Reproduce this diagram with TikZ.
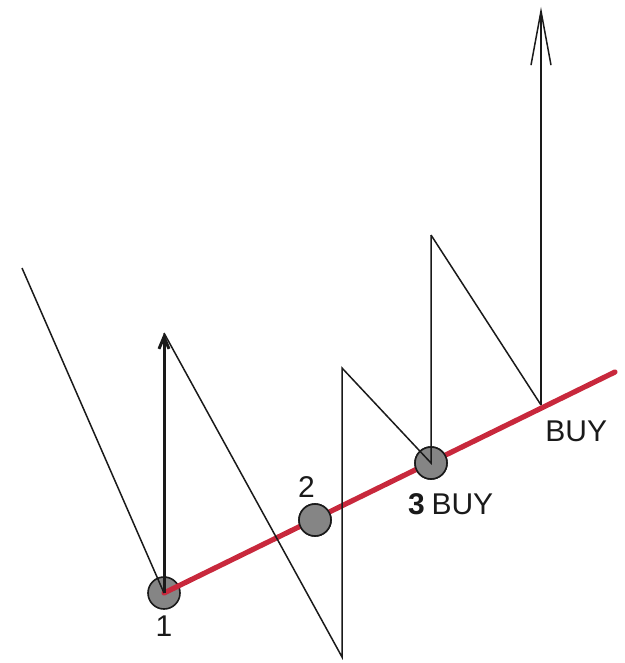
\documentclass[tikz,border=0pt]{standalone}
\usepackage{fontspec}
\setmainfont{Liberation Sans}
\usetikzlibrary{arrows.meta,positioning}
\definecolor{trend}{HTML}{C8283C}
\definecolor{dot}{HTML}{858585}
\definecolor{ink}{HTML}{1A1A1A}
\tikzset{
  pt/.style={circle,draw=ink,fill=dot,line width=0.8pt,minimum size=16pt,inner sep=0pt},
  leg/.style={draw=ink,line width=0.75pt,line join=miter},
  imp/.style={-{Straight Barb[length=6pt,width=5pt]},draw=ink,line width=1.5pt},
  tgt/.style={-{Straight Barb[length=27pt,width=10pt]},draw=ink,line width=0.75pt},
  tl/.style={draw=trend,line width=2.6pt,line cap=round},
  lbl/.style={font=\fontsize{15}{18}\selectfont,text=ink,inner sep=0pt},
}
\begin{document}
\begin{tikzpicture}[x=0.5pt,y=-0.5pt]
\useasboundingbox (0,0) rectangle (625,663);
% swing points
\coordinate (start) at (22,268);
\coordinate (top1) at (164,333);
\coordinate (low1) at (342,657);
\coordinate (top2) at (342,368);
\coordinate (top3) at (431,235);
\coordinate (buy2) at (541,405);
\coordinate (top4) at (541,7);
\coordinate (tend) at (615,372);
% trend line and touches
\node[pt] (p1) at (164,593) {};
\node[pt] (p2) at (315,520) {};
\node[pt] (p3) at (431,463) {};
\draw[tl] (p1.center) -- (tend);
\node[pt] at (p2) {};
\node[pt] at (p3) {};
% price path
\draw[leg] (start) -- (p1.center);
\draw[imp] (p1.center) -- (top1);
\draw[leg] (top1) -- (low1) -- (top2) -- (p3.center) -- (top3);
\draw[leg] (top3) -- (buy2);
\draw[tgt] (buy2) -- (top4);
% labels
\node[lbl,below=3pt of p1] (n1) {1};
\node[lbl,above left=5pt and -6pt of p2] (n2) {2};
\node[lbl,font=\fontsize{15}{18}\selectfont\bfseries,below left=9pt and -3pt of p3] (n3) {3};
\node[lbl,right=3pt of n3] (b1) {BUY};
\node[lbl,anchor=west] (b2) at (545,431) {BUY};
\end{tikzpicture}
\end{document}
